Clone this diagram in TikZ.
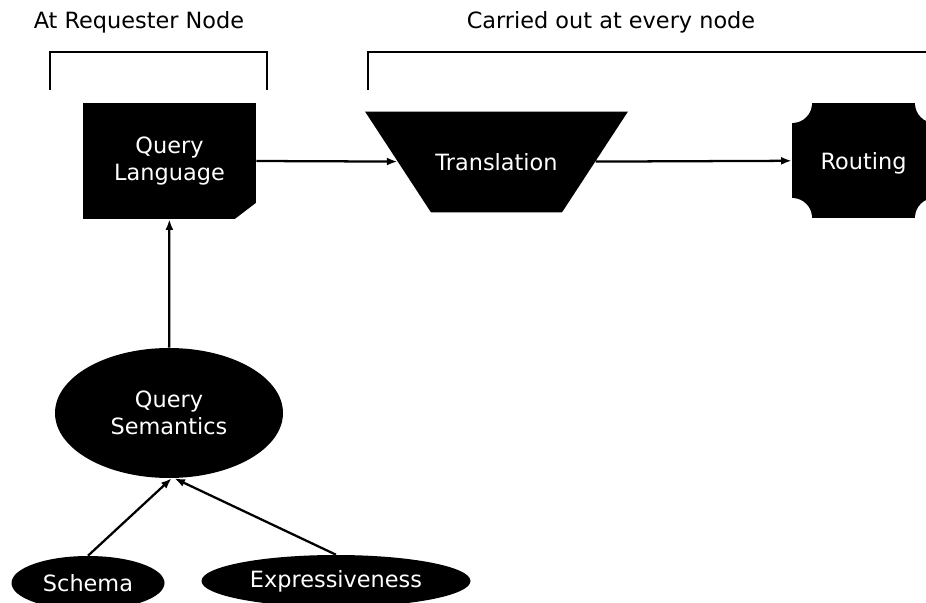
\documentclass[tikz,border=0pt]{standalone}
\usepackage{fontspec}
\setmainfont{DejaVu Sans}
\usetikzlibrary{shapes.geometric, arrows.meta, positioning}

\begin{document}
\begin{tikzpicture}[x=0.75pt, y=-0.75pt,
  lbl/.style={font=\fontsize{16.8}{20}\selectfont},
  box/.style={lbl, fill=black, text=white, inner sep=0pt, align=center},
  flow/.style={-{Latex[length=8pt,width=6pt]}, line width=1.7pt},
  brace/.style={line width=2.2pt},
  cutbox/.style={box, rectangle, minimum width=129.75pt, minimum height=87pt,
    path picture={\fill[white] ([xshift=-15.75pt]path picture bounding box.south east)
      -- (path picture bounding box.south east)
      -- ([yshift=12pt]path picture bounding box.south east) -- cycle;}},
  notchbox/.style={box, rectangle, text depth=0pt, minimum width=107.25pt, minimum height=86.25pt,
    path picture={\foreach \c in {north west,north east,south west,south east}
      \fill[white] (path picture bounding box.\c) circle (15pt);}},
  funnel/.style={box, trapezium, shape border rotate=180, trapezium left angle=56.8,
    trapezium right angle=56.8, inner xsep=3.4pt, inner ysep=31.2pt}]
  \useasboundingbox (0,0) rectangle (926,603);

  % stage labels with their brackets
  \node[lbl, anchor=base] (lreq) at (139,28) {At Requester Node};
  \node[lbl, anchor=base] (lall) at (611,28) {Carried out at every node};
  \draw[brace] (50,90) -- (50,52) -- (267,52) -- (267,90);
  \draw[brace] (368,90) -- (368,52) -- (940,52);

  % top row
  \node[cutbox] (ql) at (169.5,161) {Query\\Language};
  \node[funnel] (tr) at (496.5,162) {Translation};
  \node[notchbox] (rt) at (863.5,160.5) {Routing};

  % inputs below
  \node[box, ellipse, minimum width=171pt, minimum height=97.5pt] (qs) at (169,413) {Query\\Semantics};
  \node[box, ellipse, minimum width=114.75pt, minimum height=40.5pt] (sc) at (88,583) {Schema};
  \node[box, ellipse, minimum width=201.75pt, minimum height=39pt] (ex) at (336,581) {Expressiveness};

  \draw[flow] (ql.east) -- (tr);
  \draw[flow] (tr) -- (rt);
  \draw[flow] (qs) -- (ql);
  \draw[flow] (sc.north) -- ([xshift=2pt]qs.south);
  \draw[flow] (ex.north) -- ([xshift=4pt]qs.south);
\end{tikzpicture}
\end{document}
